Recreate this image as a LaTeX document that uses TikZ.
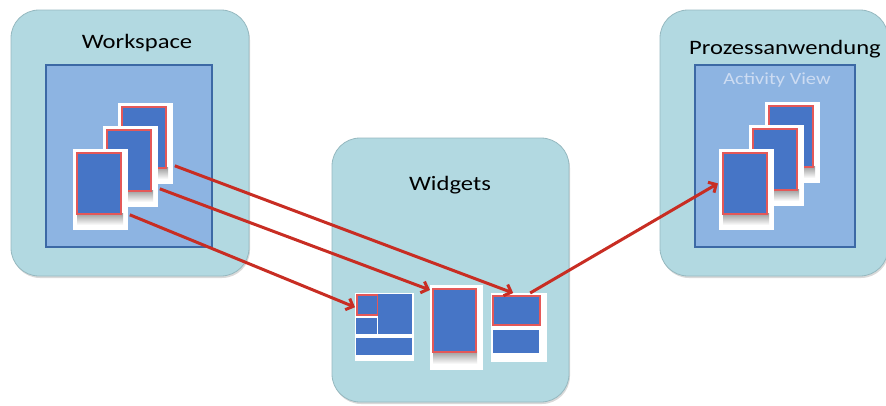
\documentclass[tikz,border=0pt]{standalone}
\usepackage{fontspec}
\setmainfont{Carlito}[FakeStretch=1.2]
\usetikzlibrary{arrows.meta,shadows}

\definecolor{boxcyan}{RGB}{178,217,225}
\definecolor{boxline}{RGB}{150,185,192}
\definecolor{areablue}{RGB}{141,180,226}
\definecolor{arealine}{RGB}{60,105,165}
\definecolor{cardblue}{RGB}{70,117,198}
\definecolor{cardred}{RGB}{228,88,88}
\definecolor{flowred}{RGB}{200,45,35}
\definecolor{viewtext}{RGB}{205,220,242}

% one stacked page: white sheet, shadow, blue face
\newcommand{\sheet}[3]{%
  \fill[white] (#2-3,#3-3) rectangle (#2+52,#3+78);
  \shade[top color=gray!80,bottom color=white] (#2+1,#3+61) rectangle (#2+47,#3+73);
  \node[face,minimum width=44pt,minimum height=61pt] (#1) at (#2,#3) {};
}

\begin{document}
\begin{tikzpicture}[
			x=1pt, y=-1pt,
			panel/.style = {draw=boxline, fill=boxcyan, rounded corners=28pt, line width=0.8pt,
				drop shadow={shadow xshift=1pt,shadow yshift=-2pt,opacity=.3}},
			area/.style = {draw=arealine, fill=areablue, line width=1.5pt},
			face/.style = {draw=cardred, fill=cardblue, line width=1.8pt, inner sep=0pt, anchor=north west},
			block/.style = {fill=cardblue, inner sep=0pt, anchor=north west},
			paper/.style = {fill=white, inner sep=0pt, anchor=north west},
			title/.style = {font=\fontsize{20.5}{24}\selectfont, text=black},
			flow/.style = {draw=flowred, line width=3pt, -{Straight Barb[length=6pt,width=12pt]}}
		]
		\useasboundingbox (0,0) rectangle (886,405);

		% panels
		\node[panel, minimum width=238pt, minimum height=266pt] (ws) at (130,143) {};
		\node[panel, minimum width=237pt, minimum height=264pt] (wg) at (450.5,270) {};
		\node[panel, minimum width=228pt, minimum height=266pt] (pa) at (774,143) {};
		\node[area, minimum width=166pt, minimum height=182pt] (wsarea) at (129,156) {};
		\node[area, minimum width=160pt, minimum height=182pt] (paarea) at (775,156) {};

		\node[title] (wsname) at (137,43) {Workspace};
		\node[title] (wgname) at (450,185) {Widgets};
		\node[title] (paname) at (785,49) {Prozessanwendung};
		\node[font=\fontsize{17}{20}\selectfont, text=viewtext] (avname) at (777,80) {Activity View};

		% workspace pages
		\sheet{wsC}{121}{106}
		\sheet{wsB}{106}{129}
		\sheet{wsA}{76}{152}

		% process pages
		\sheet{paC}{768}{105}
		\sheet{paB}{752}{128}
		\sheet{paA}{722}{152}

		% widget 1
		\node[paper, minimum width=59pt, minimum height=68pt] (wgA) at (355,293) {};
		\node[block, draw=cardred, line width=1.5pt, minimum width=21pt, minimum height=20pt] (wgA1) at (356,294) {};
		\node[block, minimum width=34pt, minimum height=40pt] (wgA2) at (378,294) {};
		\node[block, minimum width=21pt, minimum height=16pt] (wgA3) at (356,318) {};
		\node[block, minimum width=56pt, minimum height=17pt] (wgA4) at (356,338) {};

		% widget 2
		\node[paper, minimum width=53pt, minimum height=85pt] (wgB) at (430,285) {};
		\shade[top color=gray!80,bottom color=white] (433,351) rectangle (477,364);
		\node[face, minimum width=43pt, minimum height=63pt] (wgB1) at (432,288) {};

		% widget 3
		\node[paper, minimum width=56pt, minimum height=69pt] (wgC) at (491,293) {};
		\node[face, minimum width=47pt, minimum height=29pt] (wgC1) at (492,295) {};
		\node[block, minimum width=46pt, minimum height=23pt] (wgC2) at (493,330) {};

		% flows
		\draw[flow] ([xshift=8pt,yshift=3pt]wsC.south east) -- ([xshift=-6pt]wgC.north);
		\draw[flow] ([xshift=8pt,yshift=3pt]wsB.south east) -- ([yshift=-5pt]wgB.north west);
		\draw[flow] ([xshift=8pt,yshift=0pt]wsA.south east) -- ([yshift=20pt]wgA.west);
		\draw[flow] ([xshift=11pt]wgC.north) -- ([xshift=-4pt]paA.west);
	\end{tikzpicture}
\end{document}
